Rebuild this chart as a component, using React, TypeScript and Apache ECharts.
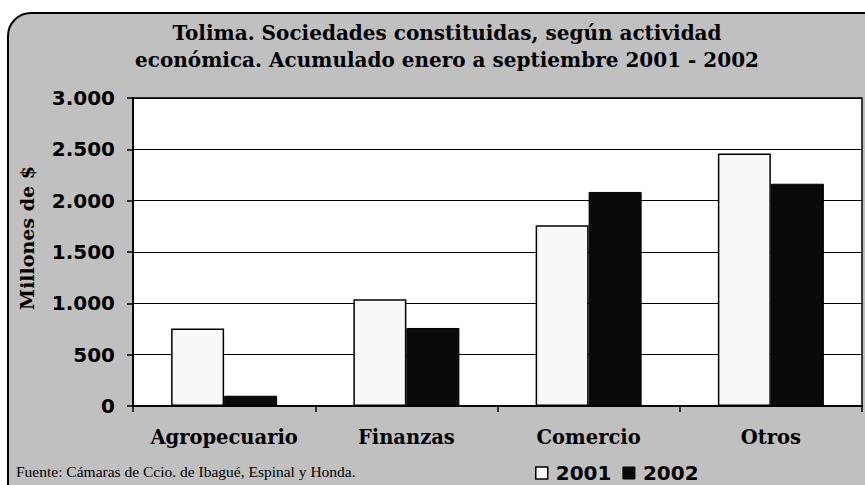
import React, { useEffect, useRef } from "react";
import * as echarts from "echarts";

const categories = ["Agropecuario", "Finanzas", "Comercio", "Otros"];
const values2001 = [755, 1040, 1760, 2460];
const values2002 = [100, 760, 2085, 2165];
const seriesNames = ["2001", "2002"];
const titleLines = [
  "Tolima. Sociedades constituidas, según actividad",
  "económica. Acumulado enero a septiembre 2001 - 2002",
];
const yAxisName = "Millones de $";
const sourceText = "Fuente: Cámaras de Ccio. de Ibagué, Espinal y Honda.";

const fmt = (v: number) => {
  const s = String(Math.round(v));
  return s.replace(/\B(?=(\d{3})+(?!\d))/g, ".");
};

export default function App() {
  const ref = useRef<HTMLDivElement>(null);
  useEffect(() => {
    if (!ref.current) return;
    const chart = echarts.init(ref.current, undefined, { renderer: "svg" });
    const serif = "DejaVu Serif";
    const sans = "DejaVu Sans";
    chart.setOption({
      animation: false,
      backgroundColor: "transparent",
      grid: {
        left: 133,
        top: 98,
        right: 3,
        bottom: 79,
        show: true,
        backgroundColor: "#ffffff",
        borderColor: "#000",
        borderWidth: 1.5,
      },
      graphic: [
        {
          type: "text",
          x: 447,
          y: 23,
          style: {
            text: titleLines[0],
            textAlign: "center",
            font: `bold 20px "${serif}"`,
            fill: "#000",
          },
        },
        {
          type: "text",
          x: 447,
          y: 50,
          style: {
            text: titleLines[1],
            textAlign: "center",
            font: `bold 20px "${serif}"`,
            fill: "#000",
          },
        },
        {
          type: "text",
          x: 27,
          y: 238,
          rotation: Math.PI / 2,
          style: {
            text: yAxisName,
            textAlign: "center",
            textVerticalAlign: "middle",
            font: `bold 19px "${serif}"`,
            fill: "#000",
          },
        },
        {
          type: "text",
          x: 16,
          y: 463,
          style: {
            text: sourceText,
            font: `15.5px "Liberation Serif"`,
            fill: "#000",
          },
        },
      ],
      legend: {
        left: 535,
        top: 463,
        padding: 0,
        icon: "rect",
        itemWidth: 12,
        itemHeight: 12,
        itemGap: 11,
        textStyle: {
          fontFamily: sans,
          fontWeight: "bold",
          fontSize: 20,
          color: "#000",
          padding: [0, 0, 0, 3],
        },
        data: [
          { name: seriesNames[0], itemStyle: { color: "#f8f8f8", borderColor: "#000", borderWidth: 1.5 } },
          { name: seriesNames[1], itemStyle: { color: "#0a0a0a", borderColor: "#000", borderWidth: 1 } },
        ],
      },
      xAxis: {
        type: "category",
        data: categories,
        axisLine: { lineStyle: { color: "#000", width: 2 } },
        axisTick: { show: true, interval: 0, length: 6, lineStyle: { color: "#000", width: 1.5 } },
        axisLabel: {
          interval: 0,
          hideOverlap: false,
          margin: 21,
          fontFamily: serif,
          fontWeight: "bold",
          fontSize: 19.5,
          color: "#000",
        },
      },
      yAxis: {
        type: "value",
        min: 0,
        max: 3000,
        interval: 500,
        axisLine: { show: true, lineStyle: { color: "#000", width: 2 } },
        axisTick: { show: true, length: 6, lineStyle: { color: "#000", width: 1.5 } },
        splitLine: { lineStyle: { color: "#000", width: 1.2 } },
        axisLabel: {
          margin: 18,
          fontFamily: sans,
          fontWeight: "bold",
          fontSize: 20,
          color: "#000",
          formatter: (v: number) => fmt(v),
        },
      },
      series: [
        {
          name: seriesNames[0],
          type: "bar",
          data: values2001,
          barWidth: 53,
          barGap: "0%",
          itemStyle: { color: "#f8f8f8", borderColor: "#000", borderWidth: 1.5 },
        },
        {
          name: seriesNames[1],
          type: "bar",
          data: values2002,
          barWidth: 53,
          barGap: "0%",
          itemStyle: { color: "#0a0a0a", borderColor: "#000", borderWidth: 1 },
        },
      ],
    });
    return () => chart.dispose();
  }, []);

  return (
    <div
      style={{
        position: "fixed",
        left: 0,
        top: 0,
        width: 865,
        height: 485,
        overflow: "hidden",
        background: "#fff",
      }}
    >
      <div
        style={{
          position: "absolute",
          left: 7,
          top: 12,
          width: 890,
          height: 500,
          background: "#c0c0c0",
          border: "2px solid #000",
          borderRadius: 24,
          boxSizing: "border-box",
        }}
      />
      <div ref={ref} style={{ position: "absolute", left: 0, top: 0, width: 865, height: 485 }} />
    </div>
  );
}
